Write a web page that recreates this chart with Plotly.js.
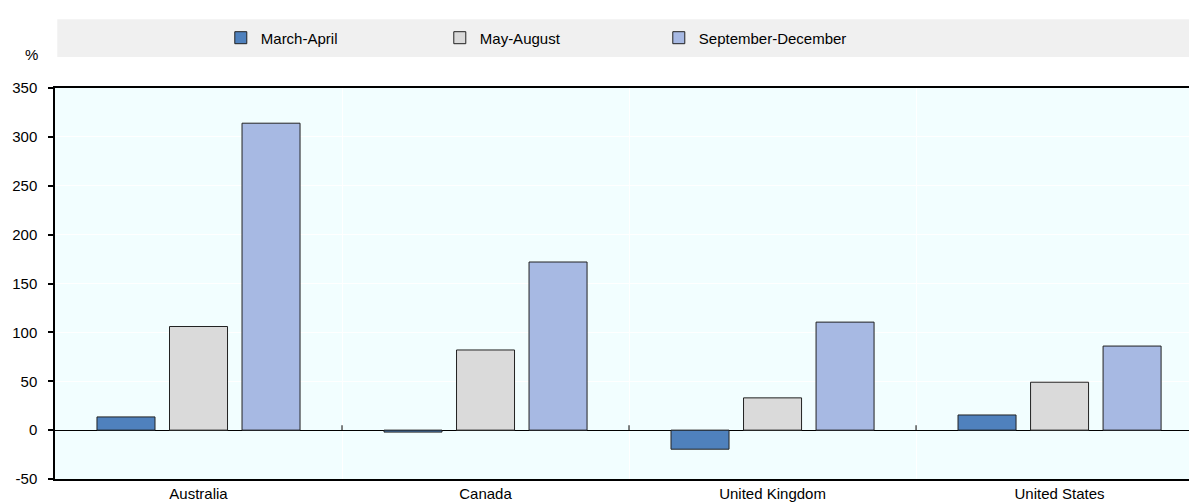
<!DOCTYPE html>
<html>
<head>
<meta charset="utf-8">
<script src="https://cdn.plot.ly/plotly-3.0.1.min.js"></script>
<style>html,body{margin:0;padding:0;background:#fff;}#chart{width:1189px;height:503px;}</style>
</head>
<body>
<div id="chart"></div>
<script>
const categories = ["Australia", "Canada", "United Kingdom", "United States"];
const seriesNames = ["March-April", "May-August", "September-December"];
const marchApril = [13.5, -2, -19.5, 15.5];
const mayAugust = [106, 82, 33, 49];
const septDecember = [314, 172, 110.5, 86];
const yTicks = [-50, 0, 50, 100, 150, 200, 250, 300, 350];

const colors = ["#4F81BD", "#DADADA", "#A7B9E3"];
const FONT = "'Liberation Sans Narrow', 'Arial Narrow', 'Liberation Sans', Arial, sans-serif";
const FS = 15;

const values = [marchApril, mayAugust, septDecember];
const traces = seriesNames.map((n, i) => ({
  type: 'bar',
  name: n,
  x: categories,
  y: values[i],
  marker: {color: colors[i], line: {color: '#222222', width: 1}},
  hoverinfo: 'x+y+name'
}));

const boundaryTicks = [0.5, 1.5, 2.5].map(b => ({
  type: 'line', xref: 'x', yref: 'y', x0: b, x1: b, y0: 0, y1: 5,
  line: {color: '#000', width: 1}
}));

const layout = {
  width: 1189, height: 503,
  margin: {l: 55, r: 0, t: 88, b: 24},
  paper_bgcolor: '#ffffff',
  plot_bgcolor: '#F2FEFF',
  font: {family: FONT, size: FS, color: '#000'},
  barmode: 'group',
  bargap: 0.242,
  bargroupgap: 0.2,
  showlegend: true,
  legend: {
    orientation: 'h', x: 0.1462, xanchor: 'left', y: 1.128, yanchor: 'middle',
    bgcolor: 'rgba(0,0,0,0)', font: {family: FONT, size: FS, color: '#000'},
    entrywidth: 174, entrywidthmode: 'pixels', itemwidth: 30, traceorder: 'normal'
  },
  xaxis: {
    type: 'category', range: [-0.5, 3.451], tickson: 'boundaries',
    showgrid: true, gridcolor: '#ffffff', gridwidth: 1,
    showline: true, linecolor: '#000', linewidth: 1.5, mirror: true,
    ticks: '', tickfont: {family: FONT, size: FS}, fixedrange: true
  },
  yaxis: {
    range: [-50, 350], tickvals: yTicks, ticktext: yTicks.map(String),
    showgrid: true, gridcolor: '#ffffff', gridwidth: 1,
    zeroline: true, zerolinecolor: '#000', zerolinewidth: 1,
    showline: true, linecolor: '#000', linewidth: 1.5,
    ticks: 'outside', ticklen: 5, tickcolor: '#000', tickwidth: 1.5,
    ticklabelstandoff: 8,
    tickfont: {family: FONT, size: FS}, fixedrange: true
  },
  shapes: [
    {type: 'rect', xref: 'paper', yref: 'paper', x0: 0.002, x1: 1, y0: 1.079, y1: 1.176,
     fillcolor: '#F0F0F0', line: {width: 0}, layer: 'below'}
  ].concat(boundaryTicks),
  annotations: [
    {text: '%', xref: 'paper', yref: 'paper', x: -0.021, y: 1.085, xanchor: 'center', yanchor: 'middle',
     showarrow: false, font: {family: FONT, size: FS, color: '#000'}}
  ]
};

Plotly.newPlot('chart', traces, layout, {displayModeBar: false, staticPlot: false});
</script>
</body>
</html>
